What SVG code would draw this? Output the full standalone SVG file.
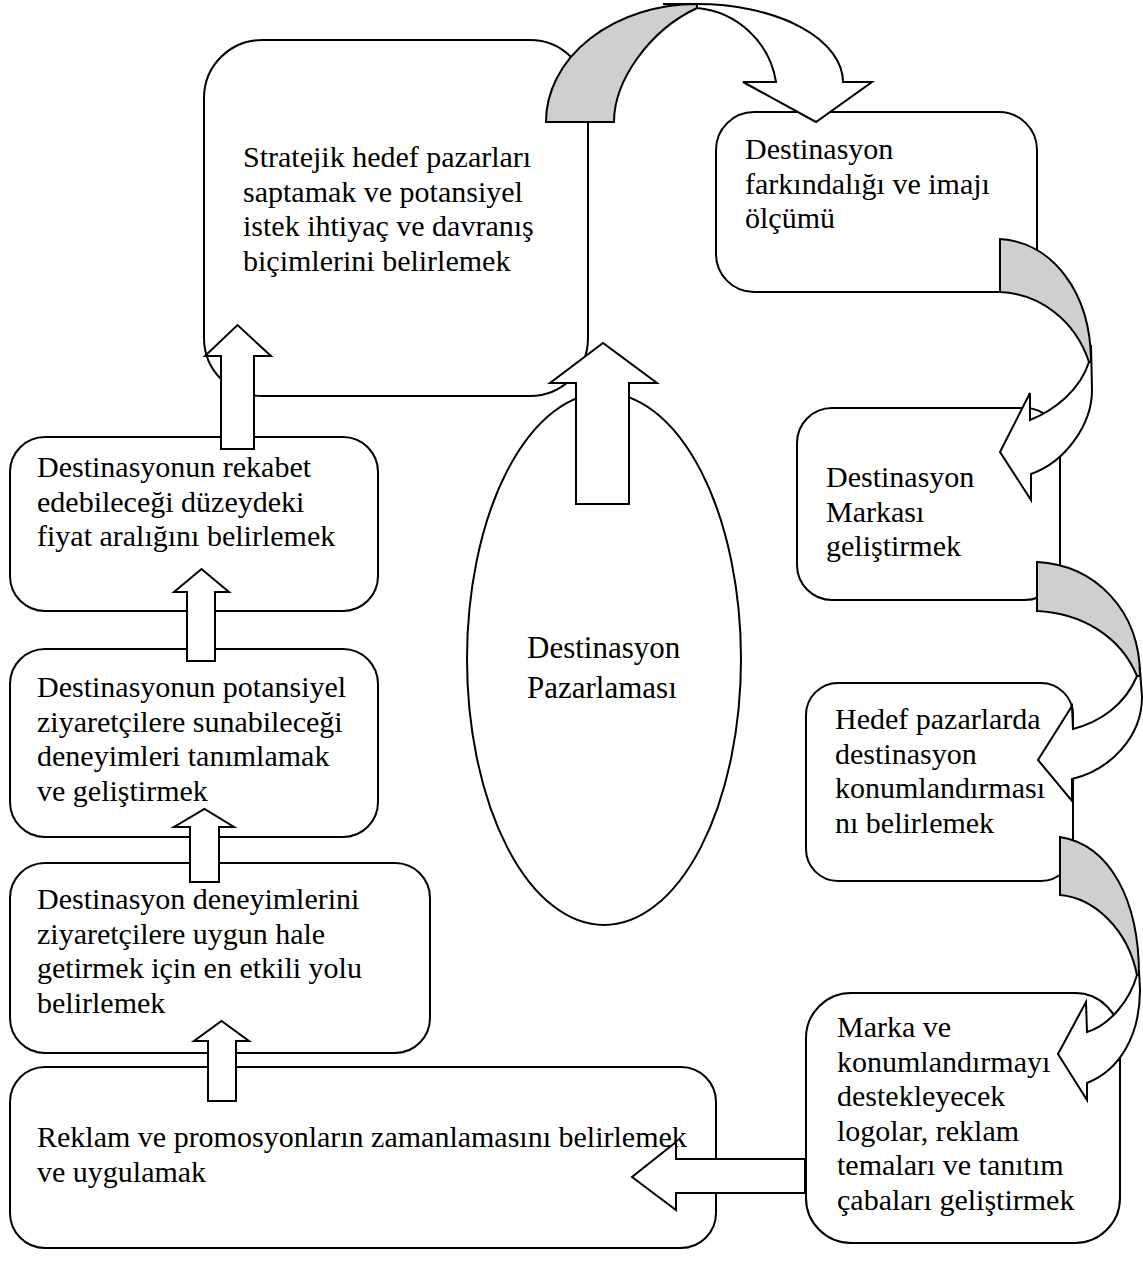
<svg xmlns="http://www.w3.org/2000/svg" width="1143" height="1262" viewBox="0 0 1143 1262">
  <style>
    .box { fill: #ffffff; stroke: #000000; stroke-width: 2; }
    .arrow { fill: #ffffff; stroke: #000000; stroke-width: 2; stroke-linejoin: miter; }
    .back { fill: #cfcfcf; stroke: #000000; stroke-width: 2; }
    .lbl { font-family: "Liberation Serif", "Times New Roman", serif; font-size: 30px; fill: #000000; }
    .big { font-size: 31px; }
  </style>
  <rect width="1143" height="1262" fill="#ffffff"/>

  <!-- top: target markets -->
  <g id="node-hedef-pazarlar">
    <rect class="box" x="204" y="40" width="384" height="356" rx="58" ry="58"/>
    <text class="lbl" x="243" y="167">Stratejik hedef pazarları</text>
    <text class="lbl" x="243" y="201.5">saptamak ve potansiyel</text>
    <text class="lbl" x="243" y="236">istek ihtiyaç ve davranış</text>
    <text class="lbl" x="243" y="270.5">biçimlerini belirlemek</text>
  </g>

  <g id="node-farkindalik">
    <rect class="box" x="716" y="112" width="321" height="180" rx="38" ry="38"/>
    <text class="lbl" x="745" y="159">Destinasyon</text>
    <text class="lbl" x="745" y="193.5">farkındalığı ve imajı</text>
    <text class="lbl" x="745" y="228">ölçümü</text>
  </g>

  <g id="node-marka">
    <rect class="box" x="797" y="408" width="263" height="192" rx="35" ry="35"/>
    <text class="lbl" x="826" y="487">Destinasyon</text>
    <text class="lbl" x="826" y="521.5">Markası</text>
    <text class="lbl" x="826" y="556">geliştirmek</text>
  </g>

  <g id="node-konumlandirma">
    <rect class="box" x="806" y="683" width="267" height="198" rx="32" ry="32"/>
    <text class="lbl" x="835" y="729">Hedef pazarlarda</text>
    <text class="lbl" x="835" y="763.5">destinasyon</text>
    <text class="lbl" x="835" y="798">konumlandırması</text>
    <text class="lbl" x="835" y="832.5">nı belirlemek</text>
  </g>

  <g id="node-logolar">
    <rect class="box" x="806" y="993" width="314" height="250" rx="45" ry="45"/>
    <text class="lbl" x="837" y="1037">Marka ve</text>
    <text class="lbl" x="837" y="1071.5">konumlandırmayı</text>
    <text class="lbl" x="837" y="1106">destekleyecek</text>
    <text class="lbl" x="837" y="1140.5">logolar, reklam</text>
    <text class="lbl" x="837" y="1175">temaları ve tanıtım</text>
    <text class="lbl" x="837" y="1209.5">çabaları geliştirmek</text>
  </g>

  <g id="node-reklam">
    <rect class="box" x="10" y="1067" width="706" height="181" rx="35" ry="35"/>
    <text class="lbl" x="37" y="1147">Reklam ve promosyonların zamanlamasını belirlemek</text>
    <text class="lbl" x="37" y="1181.5">ve uygulamak</text>
  </g>

  <g id="node-deneyim-yolu">
    <rect class="box" x="10" y="863" width="420" height="190" rx="35" ry="35"/>
    <text class="lbl" x="37" y="909">Destinasyon deneyimlerini</text>
    <text class="lbl" x="37" y="943.5">ziyaretçilere uygun hale</text>
    <text class="lbl" x="37" y="978">getirmek için en etkili yolu</text>
    <text class="lbl" x="37" y="1012.5">belirlemek</text>
  </g>

  <g id="node-deneyimler">
    <rect class="box" x="10" y="649" width="368" height="188" rx="35" ry="35"/>
    <text class="lbl" x="37" y="697">Destinasyonun potansiyel</text>
    <text class="lbl" x="37" y="731.5">ziyaretçilere sunabileceği</text>
    <text class="lbl" x="37" y="766">deneyimleri tanımlamak</text>
    <text class="lbl" x="37" y="800.5">ve geliştirmek</text>
  </g>

  <g id="node-fiyat">
    <rect class="box" x="10" y="437" width="368" height="174" rx="35" ry="35"/>
    <text class="lbl" x="37" y="477">Destinasyonun rekabet</text>
    <text class="lbl" x="37" y="511.5">edebileceği düzeydeki</text>
    <text class="lbl" x="37" y="546">fiyat aralığını belirlemek</text>
  </g>

  <g id="node-merkez">
    <ellipse class="box" cx="604" cy="659" rx="137" ry="266"/>
    <text class="lbl big" x="527" y="658">Destinasyon</text>
    <text class="lbl big" x="527" y="698">Pazarlaması</text>
  </g>

  <g id="connectors">
    <!-- straight block arrows -->
    <path class="arrow" d="M221,449 L221,356 L205,356 L237.5,325 L271,356 L254,356 L254,449 Z"/>
    <path class="arrow" d="M187,661 L187,592 L174,592 L201.5,569 L229,592 L215,592 L215,661 Z"/>
    <path class="arrow" d="M190,882 L190,827 L174,827 L204.5,809 L234,827 L219,827 L219,882 Z"/>
    <path class="arrow" d="M208,1101 L208,1041 L194,1041 L221.5,1021 L249,1041 L236,1041 L236,1101 Z"/>
    <path class="arrow" d="M576,504 L576,383 L550,383 L603,343 L657,383 L629,383 L629,504 Z"/>
    <path class="arrow" d="M805,1159 L676,1159 L676,1142 L632,1177 L676,1210 L676,1193 L805,1193 Z"/>

    <!-- curved arrow: top box to awareness box -->
    <path class="arrow" d="M663,4 L697,4 A146 78 0 0 1 843,82 L872,82 L816,122 L743,82 L776,82 A88 88 0 0 0 697,8 Z"/>
    <path class="back" d="M546,122 A151 118 0 0 1 697,4 L697,8 C650,30 614,80 614,122 Z"/>

    <!-- curved arrow: awareness to brand -->
    <path class="arrow" d="M1091,345 L1092,390 C1092,425 1065,462 1031,474 L1031,500 L1000,452 L1030,393 L1030,420 C1055,410 1080,390 1089,362 Z"/>
    <path class="back" d="M1000,239 C1052,242 1091,292 1091,362 L1089,362 C1075,320 1040,294 1000,292 Z"/>

    <!-- curved arrow: brand to positioning -->
    <path class="arrow" d="M1140,670 L1142,697 C1142,737 1110,770 1072,779 L1072,801 L1038,760 L1072,706 L1073,729 C1100,722 1125,705 1137,676 Z"/>
    <path class="back" d="M1037,562 C1095,565 1140,610 1140,676 L1137,676 C1120,635 1080,613 1037,611 Z"/>

    <!-- curved arrow: positioning to logos -->
    <path class="arrow" d="M1139,970 L1140,990 C1140,1035 1120,1070 1087,1083 L1087,1100 L1058,1054 L1086,1002 L1087,1032 C1110,1025 1130,1000 1137,975 Z"/>
    <path class="back" d="M1060,837 C1110,845 1139,900 1139,975 L1137,975 C1128,930 1095,898 1060,895 Z"/>
  </g>
</svg>
